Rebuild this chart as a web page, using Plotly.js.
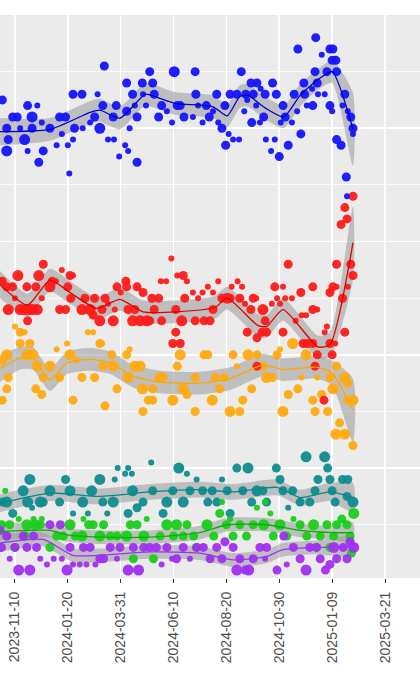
<!DOCTYPE html>
<html>
<head>
<meta charset="utf-8">
<script src="https://cdn.plot.ly/plotly-3.0.1.min.js"></script>
<style>
  html, body { margin: 0; padding: 0; background: #ffffff; }
  #chart { width: 420px; height: 680px; }
</style>
</head>
<body>
<div id="chart"></div>
<script>
// ---- Data (day offsets from 2023-11-10, poll value in %, sample weight 1-3) ----
const BASE_DATE = '2023-11-10';
const tickDates = ['2023-11-10','2024-01-20','2024-03-31','2024-06-10','2024-08-20','2024-10-30','2025-01-09','2025-03-21'];

const bluePolls = [[-17,42.5,2],[-11,40,2],[-9,39,2],[-11,38,3],[-3,41,2],[3,41,2],[7,40,1],[13,39,3],[17,42,2],[17,38,1],[23,41,3],[23,40,2],[30,42,1],[32,37,2],[36,40.5,1],[38,38,2],[47,40,2],[56,38.5,1],[60,41,2],[63,39.5,1],[68,41,2],[71,38.5,1],[73,36,1],[78,43,2],[78,39,1],[80,40,2],[90,43,2],[91,40,1],[101,40.5,1],[107,41,2],[111,43,1],[114,40,3],[120,45.5,2],[118,42,2],[125,39,1],[132,41,2],[133,39,1],[136,42,2],[140,37.5,1],[148,38.5,1],[152,38,1],[150,41.5,2],[150,44,2],[154,40,1],[158,43,2],[161,42,1],[164,41,2],[164,37,2],[171,44,2],[172,43,1],[176,42,1],[181,45,2],[185,44,2],[187,43,2],[193,41,2],[197,42,2],[204,41.5,1],[211,40.5,1],[214,45,3],[218,42,2],[222,42,2],[227,41,2],[239,41,1],[242,45,2],[243,43,2],[246,42,1],[252,40.5,1],[257,42,2],[261,41,2],[266,41.5,1],[271,43,2],[273,40.5,1],[278,40,2],[282,42,2],[283,38.5,2],[287,39.5,1],[289,43,2],[293,39,1],[298,43,2],[301,39,1],[304,45,2],[308,41.5,1],[310,43,2],[312,42.5,1],[317,44,2],[318,40.5,2],[320,43,2],[324,42,1],[325,44,2],[329,40.5,1],[330,43.5,1],[334,41,2],[336,43,2],[337,39,1],[344,38,1],[346,44,2],[349,39,1],[351,43,2],[355,37.5,2],[357,40.5,1],[360,42,2],[363,41,2],[367,38.5,2],[372,40.5,1],[375,43,2],[379,41.5,1],[380,47,2],[384,39.5,2],[388,44,2],[389,43,2],[392,42,1],[399,43.5,1],[400,42,2],[403,45,2],[404,48,2],[406,44,2],[407,43,1],[412,46.5,1],[416,43,1],[419,45,2],[423,47,2],[426,46,2],[427,47,2],[431,46,2],[432,45,2],[423,42,2],[426,41.5,1],[432,39,2],[438,38.5,2],[443,43,2],[440,42,1],[447,41.5,1],[451,41,2],[454,40,2],[454,39.5,1],[445,35.7,2],[446,34,1]];

const redPolls = [[-17,26.5,2],[-11,26,2],[-9,24,3],[-3,26,2],[0,25,1],[4,27,3],[7,24,3],[13,24,3],[16,26,2],[17,23,2],[20,24,3],[24,24,3],[30,24,3],[28,26,2],[32,27,3],[38,28,2],[36,25,1],[47,26,3],[50,26.5,2],[55,26.5,1],[60,24,2],[63,27.5,1],[68,24,2],[71,26,2],[74,27,2],[75,25,2],[78,27,1],[90,24,3],[94,25,2],[101,24,3],[105,23.5,2],[107,25,2],[114,23,3],[117,24,2],[121,25,2],[125,24.5,1],[132,23,3],[134,24,1],[137,26,2],[142,25.5,1],[149,26.5,2],[150,26,2],[152,24,2],[158,23,3],[164,26,2],[161,24,2],[168,23,3],[172,25.5,2],[177,23,3],[181,23,2],[184,25,2],[187,24,2],[193,25,2],[197,23,2],[196,26.5,1],[203,26.5,1],[210,28.5,1],[216,24,2],[218,27,1],[224,23,3],[226,27,2],[228,25,2],[231,26.5,1],[216,22,2],[212,21,2],[222,21,2],[239,25.5,1],[242,23,2],[246,25,1],[252,25.5,1],[254,23,2],[259,26,1],[262,23,2],[266,25.5,1],[266,24,2],[273,26.5,1],[278,25,2],[285,25,3],[289,25,2],[291,26,1],[299,26.5,1],[302,25,2],[305,26,1],[309,24.5,1],[312,22,2],[317,24,2],[320,25,2],[324,25,1],[325,21.5,2],[333,24,3],[336,23,2],[332,22,2],[338,22,2],[345,24.5,1],[349,26,2],[352,25,1],[356,24.5,1],[360,26,1],[360,22,2],[363,25,1],[367,28,2],[372,25,1],[377,23,1],[384,25.5,2],[385,23.5,1],[391,23.5,1],[400,26,2],[400,24,2],[406,24,1],[387,21,2],[393,21,2],[400,21,2],[406,20,2],[403,19,2],[416,22,1],[419,22.5,1],[423,21,2],[426,20,2],[430,21,1],[423,25.5,2],[427,26,2],[432,26,1],[432,28,2],[440,25,2],[443,22,2],[447,26,1],[451,28,2],[454,27,2],[415,16,2],[325,19,2],[454,34,2],[443,33,2],[446,32,2],[438,31.5,2]];

const orangePolls = [[-17,19.5,2],[-17,16,2],[-11,20,3],[-9,18,2],[-11,17,2],[0,22.5,1],[7,22,2],[13,22,1],[7,21,2],[16,20,3],[20,21,2],[24,20,3],[30,19,3],[28,17,2],[36,16.5,2],[38,18,2],[47,19,3],[56,20.5,1],[60,18,2],[70,21,1],[74,20,3],[78,16,2],[83,19.5,1],[90,18,2],[98,22,1],[105,22,1],[107,18,2],[114,21,2],[117,21,1],[121,15.5,2],[118,19,2],[130,20,2],[132,19,3],[137,17,2],[150,20,2],[152,18,3],[154,20.5,1],[161,19,3],[168,19,3],[172,15,2],[171,17,3],[179,16,2],[185,16,2],[185,17,2],[195,18,3],[199,18,2],[212,16,3],[218,19,2],[222,20,3],[226,17,3],[231,16.5,2],[242,18,2],[242,15,2],[254,20,2],[259,20,2],[265,16,3],[269,18,2],[275,17,2],[281,18,2],[289,15,3],[293,20,2],[298,19,1],[302,15,2],[306,16,2],[313,20,3],[318,17,2],[325,20,2],[333,19,2],[338,18,3],[346,18,2],[352,20,2],[356,20.5,1],[360,15,3],[367,16.5,2],[373,21,3],[380,17,2],[385,18,1],[391,20,3],[392,21,2],[400,16,2],[403,15,2],[406,18,1],[412,16.5,2],[423,18,2],[420,15,2],[427,17,3],[432,19,2],[431,13,3],[436,14,2],[443,13,3],[443,18,3],[447,17.5,2],[447,16,2],[454,16,3],[454,12,2]];

const tealPolls = [[-17,7,2],[-11,7,3],[-3,6,2],[11,8,3],[17,7,3],[20,9,3],[23,6.5,1],[34,7,3],[38,7,2],[47,8,3],[60,7,2],[68,9,2],[74,8,3],[78,6,1],[91,7,3],[98,6,1],[103,8,3],[114,9,3],[118,7,2],[124,6,1],[132,7,3],[134,9,1],[138,10,1],[148,9.5,1],[152,10,1],[152,6,2],[157,9.5,1],[158,8,3],[164,6.5,2],[172,7,2],[183,10.5,1],[185,8,2],[199,6,2],[204,7,3],[212,8,2],[220,10,3],[226,7,3],[231,9.5,1],[235,8,2],[244,9,1],[252,8,2],[259,7,2],[265,8,2],[271,7,2],[278,9,1],[285,8,2],[289,6,2],[298,10,2],[306,8,2],[313,10,3],[318,7,2],[325,8,3],[333,8,2],[338,7,2],[351,10,2],[356,9,2],[360,8,2],[367,6.5,1],[373,8,2],[383,7,2],[391,11,3],[396,7,2],[403,8,2],[407,9,2],[416,11,3],[420,10,2],[423,9,2],[426,8,2],[430,7,2],[440,9,2],[447,9,2],[446,7.5,2],[454,7,3]];

const greenPolls = [[-13,8,1],[-18,5,2],[-11,4,2],[-7,5,2],[0,3,2],[5,5.5,1],[14,4,2],[16,5,3],[25,5.5,1],[27,5,3],[34,5,2],[36,5.5,1],[47,3,2],[56,4,2],[65,4,2],[74,5,3],[81,4,2],[90,4,3],[92,5.5,1],[99,5,2],[105,5,2],[114,4,3],[119,5,2],[128,4,2],[137,4,2],[150,4,3],[155,5,2],[159,2,2],[164,5,2],[173,4,3],[177,5.5,1],[186,2,2],[195,4,2],[204,5,3],[213,4,2],[217,5,3],[226,4,2],[231,5,2],[240,4,2],[244,3,2],[258,5,3],[267,4,2],[275,6,2],[278,7,1],[284,5,2],[289,5.5,1],[293,4,2],[302,5,2],[311,4,2],[320,5,2],[325,6.5,1],[334,5,3],[336,7,1],[343,6,1],[347,4,2],[356,5,3],[365,4,2],[374,5.5,1],[383,5,2],[392,4,2],[401,5,3],[405,3,2],[410,4,2],[419,5,2],[423,3,2],[428,4,2],[432,5,2],[439,5.5,2],[446,5,2],[452,2.5,2],[455,6,3],[450,4,2]];

const purplePolls = [[-20,4.5,2],[-18,3,2],[-11,4,2],[-7,2,1],[0,3,2],[5,1,3],[11,4,2],[16,3,2],[20,1,3],[25,4,2],[29,3,2],[34,2,1],[43,1.5,1],[47,5,2],[52,2,1],[61,5,2],[63,2,1],[70,1,3],[74,3,2],[78,1.5,1],[87,1.5,1],[92,3,2],[96,1.5,1],[101,3,2],[108,1.5,1],[114,2,2],[119,2,2],[128,3,2],[137,2,1],[141,3,2],[152,1,3],[159,3,2],[166,1,3],[173,3,2],[181,3,2],[190,3,2],[197,1.5,1],[204,3,2],[211,2,1],[217,2,2],[226,3,2],[235,2,1],[244,3,2],[253,3,2],[262,2,2],[271,3,2],[278,2,2],[282,3.5,2],[293,3,2],[298,1,3],[302,2,2],[309,1,2],[314,1,3],[320,2,2],[329,3,2],[336,2,1],[338,3,2],[352,1,2],[361,4,2],[365,1.5,1],[374,3,2],[383,2,2],[391,1,3],[396,3,2],[405,3,2],[410,2,2],[417,1,2],[423,1.5,2],[428,3,3],[432,2,2],[441,3,2],[446,2,2],[450,3.5,2],[455,3,3]];

// Smoothed trends: day offsets, fitted value, half-width of confidence band
const blueTrendDay = [-20,47,101,114,141,175,188,215,266,285,302,313,336,361,383,407,426,454];
const blueTrend    = [39.7,39.9,41.4,41.6,40.9,43.0,42.8,42.2,41.9,41.1,42.8,42.9,41.8,41.0,42.9,44.3,45.0,39.9];
const blueBand     = [1.2,1.0,1.0,1.0,1.0,1.0,1.0,1.0,1.0,1.0,1.0,1.0,1.0,1.0,1.0,0.9,1.0,3.2];

const redTrendDay = [-20,17,47,74,110,141,172,218,269,285,326,338,360,407,423,454];
const redTrend    = [26.2,24.4,26.6,25.5,24.1,24.9,23.8,23.8,24.2,25.0,22.6,22.5,24.0,20.7,20.9,29.9];
const redBand     = [1.2,1.0,1.0,1.0,1.0,1.0,1.0,1.0,1.0,1.0,1.0,1.0,1.0,1.0,1.1,3.2];

const orangeTrendDay = [-20,7,24,47,70,101,128,159,195,248,289,333,360,406,426,454];
const orangeTrend    = [18.8,19.7,19.7,17.8,19.3,19.6,19.3,18.1,17.6,17.5,17.9,19.1,18.7,18.9,18.4,15.1];
const orangeBand     = [1.2,1.0,1.0,1.0,1.0,1.0,1.0,1.0,1.0,1.0,1.0,1.0,1.0,1.0,1.1,2.8];

const tealTrendDay = [-20,47,114,181,248,293,352,383,423,454];
const tealTrend    = [6.9,7.8,7.5,7.9,8.1,7.9,8.3,7.4,7.9,7.4];
const tealBand     = [0.8,0.7,0.7,0.7,0.7,0.7,0.7,0.7,0.8,1.3];

const greenTrendDay = [-20,47,70,114,181,248,285,338,383,427,454];
const greenTrend    = [4.4,4.5,4.1,3.9,3.9,4.3,5.0,5.0,4.5,4.3,4.3];
const greenBand     = [0.8,0.6,0.6,0.6,0.6,0.6,0.6,0.6,0.6,0.6,0.9];

const purpleTrendDay = [-20,38,78,114,181,248,293,338,360,406,454];
const purpleTrend    = [3.4,3.7,2.3,2.3,2.6,2.5,1.9,2.2,2.8,3.0,3.1];
const purpleBand     = [0.8,0.6,0.6,0.6,0.6,0.6,0.6,0.6,0.6,0.6,0.9];

// ---- Build traces ----
const START_MS = Date.parse(BASE_DATE + 'T00:00:00Z');
function toDate(d) {
  return new Date(START_MS + d * 86400000).toISOString().slice(0, 19).replace('T', ' ');
}
const sizeOf = {1: 6, 2: 9, 3: 11};

const parties = [
  {polls: orangePolls, td: orangeTrendDay, tv: orangeTrend, tb: orangeBand, color: '#FFA500', fill: '#FFAA11'},
  {polls: redPolls,    td: redTrendDay,    tv: redTrend,    tb: redBand,    color: '#E00000', fill: '#FF1A1A'},
  {polls: bluePolls,   td: blueTrendDay,   tv: blueTrend,   tb: blueBand,   color: '#0000CC', fill: '#1414FF'},
  {polls: tealPolls,   td: tealTrendDay,   tv: tealTrend,   tb: tealBand,   color: '#008B8B', fill: '#108C90'},
  {polls: greenPolls,  td: greenTrendDay,  tv: greenTrend,  tb: greenBand,  color: '#00B400', fill: '#1ACD1A'},
  {polls: purplePolls, td: purpleTrendDay, tv: purpleTrend, tb: purpleBand, color: '#9B30FF', fill: '#A030F0'}
];

const ribbons = [], points = [], lines = [];
parties.forEach(p => {
  const xs = p.td.map(toDate);
  const upper = p.tv.map((v, i) => v + p.tb[i]);
  const lower = p.tv.map((v, i) => v - p.tb[i]);
  ribbons.push({
    type: 'scatter', mode: 'lines',
    x: xs.concat(xs.slice().reverse()),
    y: upper.concat(lower.slice().reverse()),
    fill: 'toself', fillcolor: 'rgba(153,153,153,0.55)',
    line: {width: 0, shape: 'spline', smoothing: 0.6},
    hoverinfo: 'skip', showlegend: false
  });
  points.push({
    type: 'scatter', mode: 'markers',
    x: p.polls.map(q => toDate(q[0])),
    y: p.polls.map(q => q[1]),
    marker: {color: p.fill, opacity: 0.95, size: p.polls.map(q => sizeOf[q[2]]), line: {width: 0}},
    showlegend: false
  });
  lines.push({
    type: 'scatter', mode: 'lines',
    x: xs, y: p.tv,
    line: {color: p.color, width: 1.3, shape: 'spline', smoothing: 0.6},
    showlegend: false
  });
});

const layout = {
  width: 420, height: 680,
  margin: {l: 0, r: 0, t: 15, b: 102},
  paper_bgcolor: '#ffffff',
  plot_bgcolor: '#EBEBEB',
  showlegend: false,
  font: {family: 'Liberation Sans, Arial, sans-serif', color: '#4D4D4D'},
  xaxis: {
    type: 'date',
    range: ['2023-10-20 22:00', '2025-05-07'],
    tickmode: 'array', tickvals: tickDates, ticktext: tickDates,
    tickangle: -90,
    tickfont: {size: 14, color: '#4D4D4D'},
    ticks: 'outside', ticklen: 4, tickwidth: 1, tickcolor: '#333333',
    ticklabelstandoff: 3,
    showgrid: true, gridcolor: '#FFFFFF', gridwidth: 1.6,
    zeroline: false, showline: false
  },
  yaxis: {
    range: [0.3, 50],
    tick0: 0, dtick: 10,
    showticklabels: false, ticks: '',
    showgrid: true, gridcolor: '#FFFFFF', gridwidth: 1.6,
    minor: {dtick: 5, showgrid: true, gridcolor: '#FFFFFF', gridwidth: 0.8},
    zeroline: false, showline: false
  }
};

Plotly.newPlot('chart', ribbons.concat(points, lines), layout, {displayModeBar: false, staticPlot: true});
</script>
</body>
</html>
